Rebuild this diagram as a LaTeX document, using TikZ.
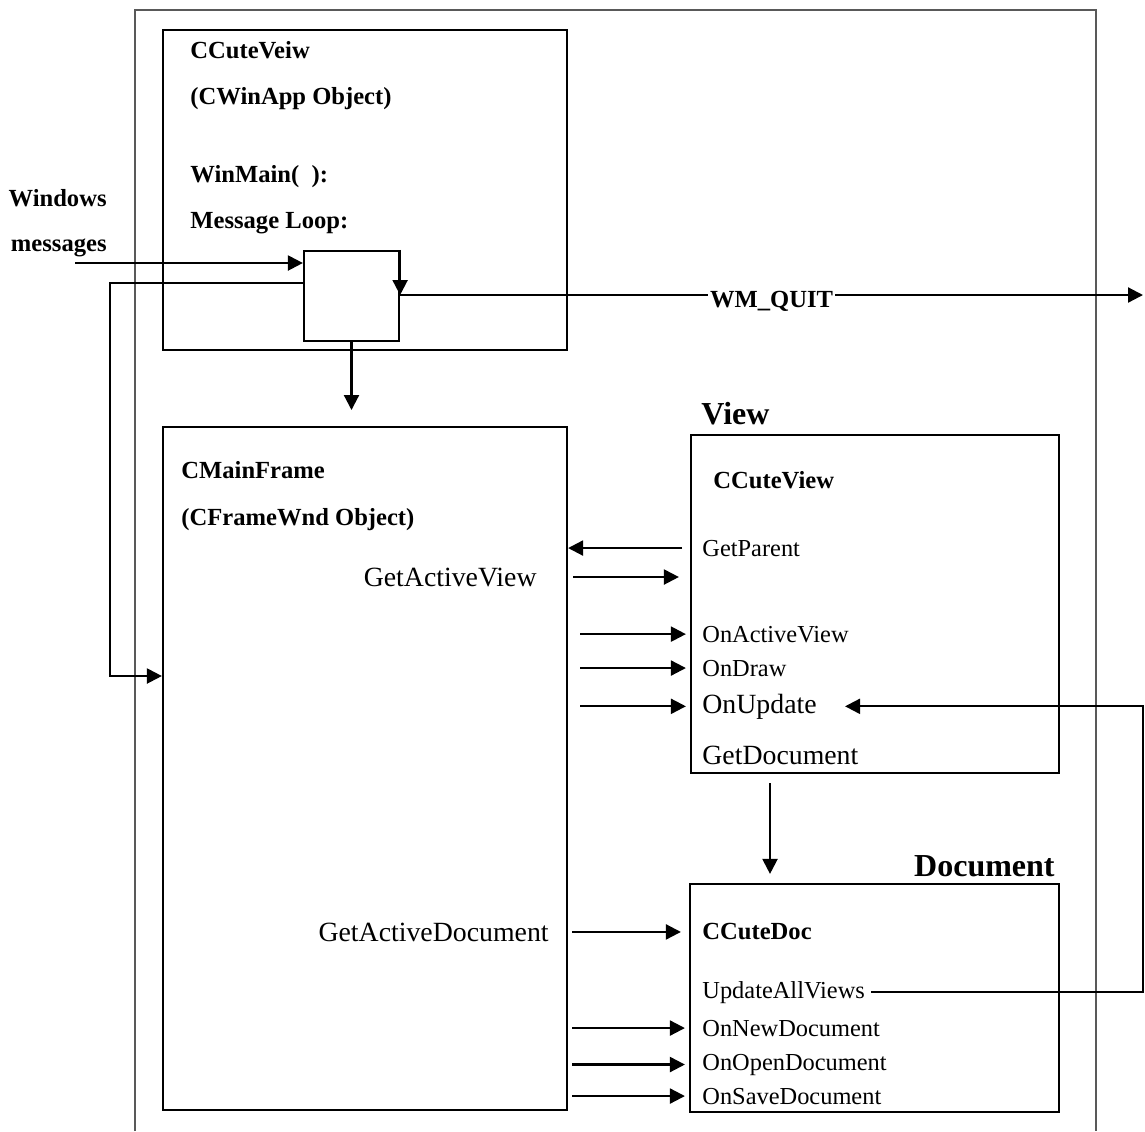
\documentclass[tikz,border=0pt]{standalone}
\usepackage{fontspec}
\setmainfont{Liberation Serif}
\usetikzlibrary{arrows.meta,positioning,calc,fit}

\tikzset{
  box/.style={draw,line width=1.1pt,inner sep=0pt},
  arr/.style={-{Triangle[length=7.5pt,width=7.5pt]},line width=1.1pt},
  bname/.style={font=\fontsize{12.3}{14}\selectfont\bfseries,inner sep=0pt},
  meth/.style={font=\fontsize{12.2}{14}\selectfont,inner sep=0pt},
  bigmeth/.style={font=\fontsize{13.9}{16}\selectfont,inner sep=0pt},
  head/.style={font=\fontsize{16}{18}\selectfont\bfseries,inner sep=0pt},
}

\begin{document}
\begin{tikzpicture}[x=0.5pt,y=-0.5pt]
  \useasboundingbox (0,0) rectangle (1145,1131);
  % outer frame, open at the bottom
  \draw[black!65,line width=0.7pt] (135,1131) -- (135,10) -- (1096,10) -- (1096,1131);

  % the boxes
  \node[box,fit={(163,30) (567,350)}] (app) {};
  \node[box,fit={(304,251) (399,341)}] (loop) {};
  \node[box,fit={(163,427) (567,1110)}] (frame) {};
  \node[box,fit={(691,435) (1059,773)}] (view) {};
  \node[box,fit={(690,884) (1059,1112)}] (doc) {};

  % application object
  \node[bname,anchor=base west] (appname) at (190,58) {CCuteVeiw};
  \node[bname,anchor=base west] (appobj) at (190,104) {(CWinApp Object)};
  \node[bname,anchor=base west] (winmain) at (190,182) {WinMain(~~):};
  \node[bname,anchor=base west] (msgloop) at (190,228) {Message Loop:};
  \node[bname,anchor=base east] (winmsg) at (107,206) {Windows};
  \node[bname,anchor=base east] (winmsgb) at (107,251) {messages};

  % message loop
  \coordinate (msgsrc) at (75,263);
  \coordinate (back) at (110,676);
  \coordinate (quitend) at (1143,295);
  \draw[arr] (msgsrc) -- (msgsrc -| loop.west);
  \draw[arr] (loop.west |- 0,283) -| (back) -- (back -| frame.west);
  \draw[arr] (loop.north east) -- (loop.east |- quitend);
  \draw[arr] (loop.east |- quitend) -- node[bname,fill=white,inner xsep=1pt,yshift=-3pt] (quit) {WM\_QUIT} (quitend);
  \draw[arr] (loop.south) -- (loop.south |- 0,410);

  % frame window
  \node[bname,anchor=base west] (framename) at (181,478) {CMainFrame};
  \node[bname,anchor=base west] (frameobj) at (181,525) {(CFrameWnd Object)};
  \node[bigmeth,anchor=base east] (activeview) at (537,586) {GetActiveView};
  \node[bigmeth,anchor=base east] (activedoc) at (549,941) {GetActiveDocument};

  % view
  \node[head,anchor=base west] (viewhead) at (701,424) {View};
  \node[bname,anchor=base west] (viewname) at (713,488) {CCuteView};
  \node[meth,anchor=base west] (getparent) at (702,556) {GetParent};
  \node[meth,anchor=base west] (onactive) at (702,642) {OnActiveView};
  \node[meth,anchor=base west] (ondraw) at (702,676) {OnDraw};
  \node[bigmeth,anchor=base west] (onupdate) at (702,713) {OnUpdate};
  \node[bigmeth,anchor=base west] (getdoc) at (702,764) {GetDocument};

  % document
  \node[head,anchor=base east] (dochead) at (1055,876) {Document};
  \node[bname,anchor=base west] (docname) at (702,939) {CCuteDoc};
  \node[meth,anchor=base west] (updateall) at (702,998) {UpdateAllViews};
  \node[meth,anchor=base west] (onnew) at (702,1036) {OnNewDocument};
  \node[meth,anchor=base west] (onopen) at (702,1070) {OnOpenDocument};
  \node[meth,anchor=base west] (onsave) at (702,1104) {OnSaveDocument};

  % calls between frame, view and document
  \draw[arr] ([xshift=-10pt]getparent.west) -- (getparent.west -| frame.east);
  \draw[arr,shorten >=5.5pt] ([xshift=18pt]activeview.east) -- (activeview.east -| view.west);
  \foreach \m in {onactive,ondraw,onupdate}
    \draw[arr,shorten >=2pt] ([xshift=-61pt]\m.west) -- (\m.west -| view.west);
  \draw[arr,shorten >=4pt] ([xshift=11.5pt]activedoc.east) -- (activedoc.east -| doc.west);
  \foreach \m in {onnew,onopen,onsave}
    \draw[arr,shorten >=2pt] ([xshift=-65pt]\m.west) -- (\m.west -| doc.west);
  \coordinate (vd) at (770,783);
  \draw[arr,shorten >=4.5pt] (vd) -- (vd |- doc.north);
  \coordinate (loopx) at (1143,0);
  \draw[arr] ([xshift=3pt]updateall.east) -| (loopx |- onupdate.east) -- ([xshift=14pt]onupdate.east);
\end{tikzpicture}
\end{document}
